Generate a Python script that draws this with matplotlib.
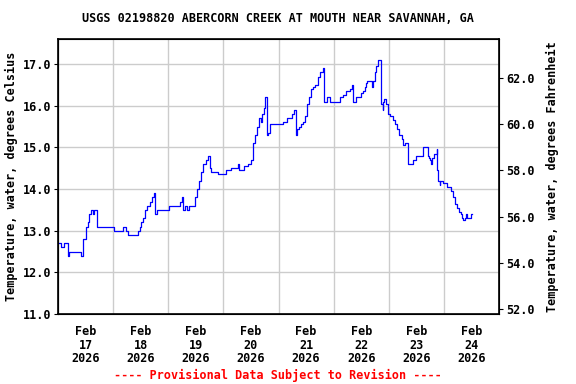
import datetime as dt
import numpy as np
import matplotlib
matplotlib.use("Agg")
import matplotlib.pyplot as plt
import matplotlib.dates as mdates

# hours after 2026-02-17 00:00 where the reading changes, and the reading (deg C)
hours = [0, 1.4, 2.4, 4.3, 5.0, 9.8, 10.7, 11.1, 12.0, 12.4, 12.9, 13.3, 13.7, 14.2,
         15.1, 15.5, 17.0, 24.3, 28.1, 29.5, 30.3, 34.7, 35.6, 36.2, 36.9, 37.7,
         38.6, 39.9, 40.8, 41.8, 42.1, 43.0, 48.2, 53.0, 53.8, 54.3, 55.2, 56.1,
         56.9, 59.6, 60.4, 61.3, 62.2, 63.1, 64.4, 65.2, 66.1, 66.5, 67.8, 69.6,
         73.1, 75.3, 78.3, 78.8, 81.0, 82.7, 84.0, 84.9, 85.7, 86.6, 87.5, 88.4,
         88.8, 89.7, 90.1, 91.0, 91.4, 92.3, 98.0, 99.7, 101.9, 102.8, 103.6,
         104.1, 105.0, 105.8, 106.7, 107.6, 108.4, 109.3, 110.2, 111.0, 111.9,
         113.2, 114.1, 115.3, 115.9, 117.2, 118.5, 122.8, 124.1, 125.5, 127.2,
         127.9, 128.5, 129.8, 132.0, 132.9, 133.8, 134.2, 134.6, 136.8, 137.2,
         138.1, 138.6, 139.4, 140.8, 141.4, 141.6, 142.1, 142.9, 143.8, 144.7,
         146.0, 146.8, 147.7, 148.6, 149.9, 150.3, 151.2, 152.5, 154.7, 156.0,
         159.1, 161.3, 161.7, 162.1, 162.6, 163.0, 163.9, 164.8, 165.2, 165.6,
         166.1, 166.5, 167.8, 169.5, 171.3, 172.1, 173.0, 173.9, 174.8, 175.6,
         176.1, 176.5, 177.0, 177.8, 178.2, 180.0, 180.4]
temps = [12.7, 12.6, 12.7, 12.4, 12.5, 12.4, 12.6, 12.8, 13.0, 13.1, 13.2, 13.3, 13.4, 13.5,
         13.4, 13.5, 13.1, 13.0, 13.1, 13.0, 12.9, 13.0, 13.1, 13.2, 13.3, 13.5,
         13.6, 13.7, 13.8, 13.9, 13.4, 13.5, 13.6, 13.7, 13.8, 13.5, 13.6, 13.5,
         13.6, 13.8, 14.0, 14.2, 14.4, 14.6, 14.7, 14.8, 14.5, 14.4, 14.4, 14.35,
         14.45, 14.5, 14.6, 14.45, 14.55, 14.6, 14.7, 15.1, 15.3, 15.5, 15.7, 15.6,
         15.8, 15.95, 16.2, 15.3, 15.35, 15.55, 15.6, 15.7, 15.8, 15.9, 15.3,
         15.45, 15.5, 15.55, 15.6, 15.75, 16.05, 16.2, 16.4, 16.45, 16.5,
         16.7, 16.8, 16.9, 16.1, 16.2, 16.1, 16.2, 16.25, 16.35, 16.4,
         16.5, 16.1, 16.2, 16.3, 16.35, 16.45, 16.55, 16.6, 16.45, 16.6,
         16.8, 16.95, 17.1, 16.05, 15.9, 16.1, 16.15, 16.05, 15.8, 15.75,
         15.65, 15.55, 15.45, 15.3, 15.2, 15.05, 15.1, 14.6, 14.7, 14.8,
         15.0, 14.8, 14.75, 14.7, 14.6, 14.75, 14.85, 14.95, 14.45, 14.2,
         14.1, 14.2, 14.15, 14.05, 13.95, 13.8, 13.65, 13.55, 13.45, 13.4,
         13.3, 13.25, 13.3, 13.4, 13.3, 13.4, 13.4]

title = "USGS 02198820 ABERCORN CREEK AT MOUTH NEAR SAVANNAH, GA"
c_ticks = [11.0, 12.0, 13.0, 14.0, 15.0, 16.0, 17.0]
f_ticks = [52.0, 54.0, 56.0, 58.0, 60.0, 62.0]

start = dt.datetime(2026, 2, 17)
times = [start + dt.timedelta(hours=h) for h in hours]

mono = "DejaVu Sans Mono"
fs = 8.5

fig = plt.figure(figsize=(5.76, 3.84), dpi=100)
ax = fig.add_axes([58 / 576, 1 - 314 / 384, 441 / 576, 275 / 384])

ax.plot(times, temps, drawstyle="steps-post", color="#0000ff", lw=0.9)

ax.set_xlim(start, start + dt.timedelta(days=8))
ax.set_ylim(11.0, 17.6)
ax.set_yticks(c_ticks)
ax.set_yticklabels([f"{v:.1f}" for v in c_ticks], fontfamily=mono,
                   fontweight="bold", fontsize=fs)

# gridlines at midnight, labels at noon
ax.xaxis.set_minor_locator(mdates.DayLocator())
ax.xaxis.set_major_locator(mdates.HourLocator(byhour=[12]))
ax.xaxis.set_major_formatter(mdates.DateFormatter("%b\n%d\n%Y"))
for lab in ax.get_xticklabels():
    lab.set_fontfamily(mono)
    lab.set_fontweight("bold")
    lab.set_fontsize(fs)
    lab.set_linespacing(1.05)
ax.tick_params(axis="x", which="both", length=0, pad=8)
ax.tick_params(axis="y", length=3, pad=2)
ax.grid(True, which="minor", axis="x", color="#cccccc", lw=1)
ax.grid(True, which="major", axis="y", color="#cccccc", lw=1)
ax.set_axisbelow(True)
for s in ax.spines.values():
    s.set_linewidth(1.2)

ax.set_ylabel("Temperature, water, degrees Celsius", fontfamily=mono,
              fontweight="bold", fontsize=fs, labelpad=3)

ax2 = ax.twinx()
ax2.set_ylim(11.0 * 1.8 + 32, 17.6 * 1.8 + 32)
ax2.set_yticks(f_ticks)
ax2.set_yticklabels([f"{v:.1f}" for v in f_ticks], fontfamily=mono,
                    fontweight="bold", fontsize=fs)
ax2.tick_params(axis="y", length=3, pad=2)
ax2.set_ylabel("Temperature, water, degrees Fahrenheit", fontfamily=mono,
               fontweight="bold", fontsize=fs, labelpad=8)

fig.text(278 / 576, 1 - 18 / 384, title, ha="center", va="center",
         fontfamily=mono, fontweight="bold", fontsize=fs)
fig.text(278 / 576, 1 - 375 / 384, "---- Provisional Data Subject to Revision ----",
         ha="center", va="center", color="red", fontfamily=mono,
         fontweight="bold", fontsize=fs)

fig.savefig("out.png", dpi=100)
